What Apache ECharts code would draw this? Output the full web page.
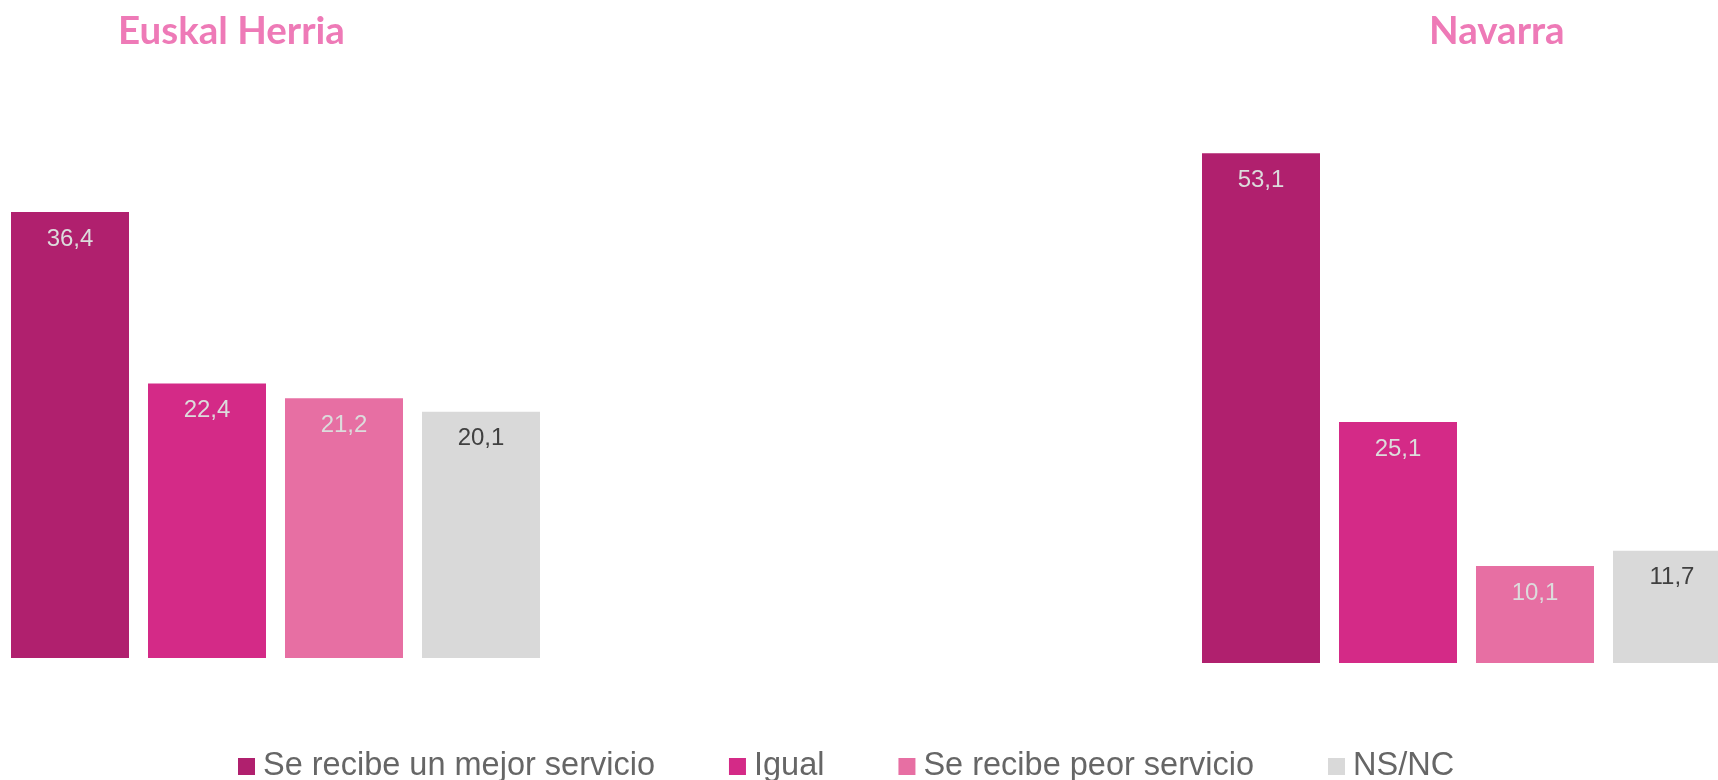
<!DOCTYPE html>
<html>
<head>
<meta charset="utf-8">
<script src="https://cdn.jsdelivr.net/npm/echarts@6/dist/echarts.min.js"></script>
<style>
html,body{margin:0;padding:0;background:#fff;}
#chart{width:1718px;height:780px;}
</style>
</head>
<body>
<div id="chart"></div>
<script>
// Data
const regions = ['Euskal Herria', 'Navarra'];
const seriesNames = ['Se recibe un mejor servicio', 'Igual', 'Se recibe peor servicio', 'NS/NC'];
const euskalHerria = [36.4, 22.4, 21.2, 20.1];
const navarra = [53.1, 25.1, 10.1, 11.7];

const colors = ['#B0206E', '#D42A87', '#E76FA3', '#D9D9D9'];
const labelColors = ['#DCDCDC', '#DCDCDC', '#DCDCDC', '#404040'];
const regionValues = [euskalHerria, navarra];

const chart = echarts.init(document.getElementById('chart'), null, {renderer: 'canvas'});

const series = [];
regionValues.forEach((vals, gi) => {
  seriesNames.forEach((name, si) => {
    series.push({
      name: name,
      type: 'bar',
      xAxisIndex: gi,
      yAxisIndex: gi,
      data: [vals[si]],
      barWidth: 118,
      barGap: '16.1%',
      itemStyle: {color: colors[si]},
      label: {
        show: true,
        position: 'insideTop',
        distance: 15,
        fontFamily: 'Liberation Sans, Arial, sans-serif',
        fontSize: 24,
        color: labelColors[si],
        formatter: p => p.value.toFixed(1).replace('.', ',')
      },
      emphasis: {disabled: true},
      animation: false
    });
  });
});

const titleStyle = {fontFamily: 'Lato, sans-serif', fontWeight: 'bold', fontSize: 38.5, color: '#EE7AB7'};

const option = {
  backgroundColor: '#ffffff',
  animation: false,
  color: colors,
  title: [
    {text: regions[0], left: 113, top: 7, textStyle: titleStyle},
    {text: regions[1], left: 1424, top: 7, textStyle: titleStyle}
  ],
  legend: {
    data: seriesNames,
    left: 233,
    top: 745,
    icon: 'rect',
    itemWidth: 17,
    itemHeight: 17,
    itemGap: 74,
    selectedMode: false,
    textStyle: {fontFamily: 'Liberation Sans, Arial, sans-serif', fontSize: 32.5, color: '#666666', padding: [0, 0, 0, 3]}
  },
  grid: [
    {left: 11, width: 529, top: 168, height: 490, outerBoundsMode: 'none'},
    {left: 1202, width: 529, top: 87, height: 576, outerBoundsMode: 'none'}
  ],
  xAxis: [
    {type: 'category', gridIndex: 0, data: [regions[0]], show: false},
    {type: 'category', gridIndex: 1, data: [regions[1]], show: false}
  ],
  yAxis: [
    {type: 'value', gridIndex: 0, min: 0, max: 40, show: false, splitLine: {show: false}},
    {type: 'value', gridIndex: 1, min: 0, max: 60, show: false, splitLine: {show: false}}
  ],
  series: series
};
chart.setOption(option);
</script>
</body>
</html>
